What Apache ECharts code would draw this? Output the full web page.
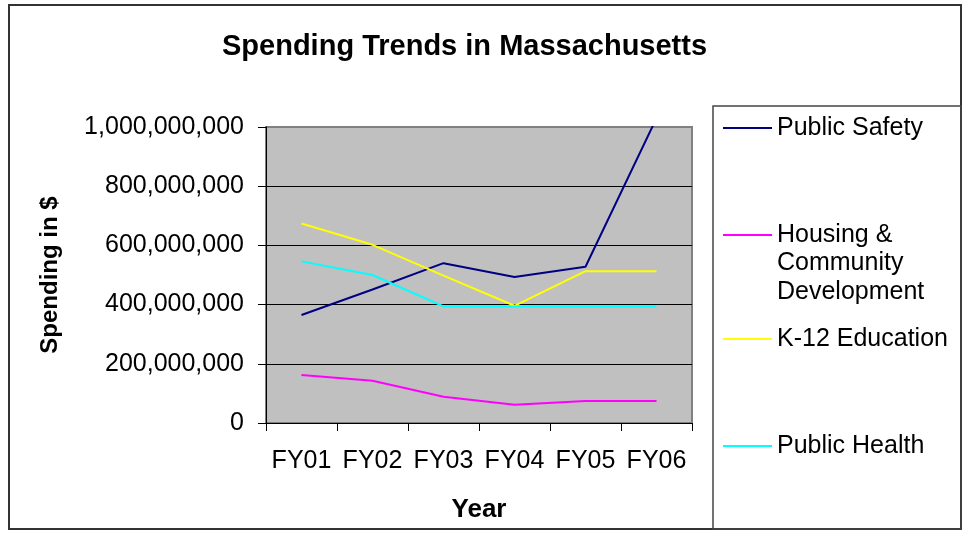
<!DOCTYPE html>
<html>
<head>
<meta charset="utf-8">
<script src="https://cdn.jsdelivr.net/npm/echarts@6/dist/echarts.min.js"></script>
<style>
  html, body { margin: 0; padding: 0; background: #ffffff; }
  #spendingChart { width: 962px; height: 551px; }
</style>
</head>
<body>
<div id="spendingChart"></div>
<script>
// fiscal years on the x axis
var years = ['FY01', 'FY02', 'FY03', 'FY04', 'FY05', 'FY06']
// spending in $
var publicSafety = [365000000, 451000000, 540000000, 493000000, 528000000, 1030000000]
var housing = [162000000, 143000000, 89000000, 62000000, 74000000, 74000000]
var k12Education = [674000000, 602000000, 498000000, 396000000, 513000000, 513000000]
var publicHealth = [546000000, 500000000, 394000000, 394000000, 394000000, 394000000]
var seriesNames = ['Public Safety', 'Housing & Community Development', 'K-12 Education', 'Public Health']

var font = 'Liberation Sans, Arial, sans-serif'
var myChart = echarts.init(document.getElementById('spendingChart'))

// one legend per entry so each can sit at its own height
function legendItem(name, top, label) {
  return {
    data: [name],
    left: 723,
    top: top,
    padding: 0,
    icon: 'rect',
    itemWidth: 49,
    itemHeight: 2,
    formatter: label ? function() { return label } : undefined,
    textStyle: {
      color: '#000000',
      fontSize: 25,
      fontFamily: font,
      lineHeight: 28.5
    }
  }
}

var option = {
  animation: false,
  color: ['#000080', '#FF00FF', '#FFFF00', '#00FFFF'],
  title: {
    text: 'Spending Trends in Massachusetts',
    left: 222,
    top: 32,
    padding: 0,
    textStyle: {
      color: '#000000',
      fontSize: 29,
      fontWeight: 'bold',
      fontFamily: font
    }
  },
  legend: [
    legendItem(seriesNames[0], 128 - 14.25),
    // two empty lines on top keep the icon level with the first text line
    legendItem(seriesNames[1], 235 - 71.25, '\n\nHousing &\nCommunity\nDevelopment'),
    legendItem(seriesNames[2], 339 - 14.25),
    legendItem(seriesNames[3], 446 - 14.25)
  ],
  grid: {
    left: 266,
    top: 127,
    width: 426,
    height: 296,
    show: true,
    backgroundColor: '#C0C0C0',
    borderColor: '#808080',
    borderWidth: 2
  },
  xAxis: {
    type: 'category',
    data: years,
    boundaryGap: true,
    name: 'Year',
    nameLocation: 'middle',
    nameGap: 74,
    nameTextStyle: {
      color: '#000000',
      fontSize: 26,
      fontWeight: 'bold',
      fontFamily: font
    },
    axisLine: { lineStyle: { color: '#000000', width: 1 } },
    axisTick: { show: true, interval: 0, length: 8, lineStyle: { color: '#000000' } },
    axisLabel: {
      interval: 0,
      color: '#000000',
      fontSize: 25,
      fontFamily: font,
      margin: 26
    },
    splitLine: { show: false }
  },
  yAxis: {
    type: 'value',
    min: 0,
    max: 1000000000,
    interval: 200000000,
    name: 'Spending in $',
    nameLocation: 'middle',
    nameRotate: 90,
    nameGap: 204,
    nameTextStyle: {
      color: '#000000',
      fontSize: 24,
      fontWeight: 'bold',
      fontFamily: font
    },
    axisLine: { show: true, lineStyle: { color: '#000000', width: 1 } },
    axisTick: { show: true, length: 8, lineStyle: { color: '#000000' } },
    axisLabel: {
      color: '#000000',
      fontSize: 25,
      fontFamily: font,
      margin: 22,
      formatter: function(v) {
        return v.toString().replace(/\B(?=(\d{3})+(?!\d))/g, ',')
      }
    },
    splitLine: {
      show: true,
      showMaxLine: false,
      lineStyle: { color: '#000000', width: 1 }
    }
  },
  graphic: [
    {
      type: 'rect',
      shape: { x: 9, y: 5, width: 952, height: 524 },
      style: { fill: null, stroke: '#333333', lineWidth: 2 },
      silent: true,
      z: -1
    },
    {
      type: 'rect',
      shape: { x: 713, y: 106, width: 248, height: 423 },
      style: { fill: null, stroke: '#444444', lineWidth: 1.5 },
      silent: true,
      z: -1
    }
  ],
  series: [
    { name: seriesNames[0], type: 'line', data: publicSafety, showSymbol: false, symbol: 'none', lineStyle: { width: 2 } },
    { name: seriesNames[1], type: 'line', data: housing, showSymbol: false, symbol: 'none', lineStyle: { width: 2 } },
    { name: seriesNames[2], type: 'line', data: k12Education, showSymbol: false, symbol: 'none', lineStyle: { width: 2 } },
    { name: seriesNames[3], type: 'line', data: publicHealth, showSymbol: false, symbol: 'none', lineStyle: { width: 2 } }
  ]
}

myChart.setOption(option)
</script>
</body>
</html>
